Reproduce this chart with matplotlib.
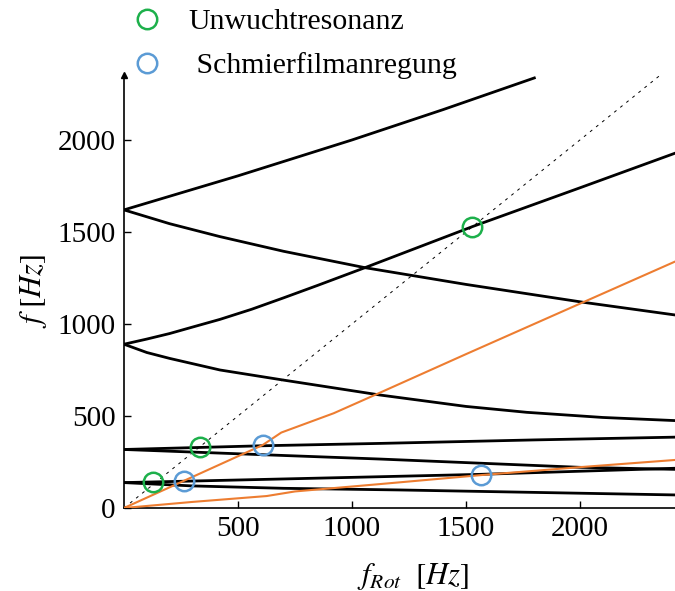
import numpy as np
import matplotlib
matplotlib.use('Agg')
import matplotlib.pyplot as plt
from matplotlib.lines import Line2D

plt.rcParams['font.family'] = ['Liberation Serif', 'DejaVu Serif']
plt.rcParams['mathtext.fontset'] = 'stix'

# Eigenfrequenzen (schwarz)
mode_x = [
    [0, 500, 1000, 1400, 1800],
    [0, 200, 420, 700, 1057, 1500, 2014, 2417],
    [0, 100, 200, 300, 421, 560, 700, 850, 1057, 1528, 2000, 2417],
    [0, 100, 200, 421, 700, 1123, 1500, 1766, 2100, 2417],
    [0, 600, 1123, 1800, 2417],
    [0, 600, 1123, 2000, 2417],
    [0, 600, 1123, 1566, 2417],
    [0, 300, 700, 1211, 2417],
]
mode_y = [
    [1620, 1805, 2000, 2165, 2337],
    [1620, 1545, 1475, 1395, 1306, 1215, 1118, 1049],
    [890, 918, 948, 983, 1025, 1080, 1142, 1210, 1306, 1529, 1740, 1928],
    [890, 845, 813, 750, 695, 614, 552, 520, 492, 475],
    [318, 338, 351, 370, 385],
    [318, 290, 266, 221, 210],
    [138, 155, 170, 183, 216],
    [138, 120, 107, 98, 71],
]

# Schmierfilm-Anregung (orange)
oil_x = [
    [0, 265, 608, 690, 920, 1100, 1500, 2014, 2417],
    [0, 300, 626, 750, 1123, 1568, 2000, 2417],
]
oil_y = [
    [0, 149, 342, 410, 515, 614, 836, 1118, 1339],
    [0, 33, 65, 90, 130, 179, 222, 261],
]

diag = [0, 2353]

unw_x = [127, 333, 1528]
unw_y = [141, 331, 1529]
smf_x = [265, 608, 1568]
smf_y = [145, 342, 179]

green = '#1db04b'
blue = '#5b9bd5'
orange = '#ed7d31'

fig = plt.figure(figsize=(6.75, 5.91), dpi=100)
ax = fig.add_axes([124 / 675, 83 / 591, 551 / 675, 433 / 591])

for xs, ys in zip(mode_x, mode_y):
    ax.plot(xs, ys, color='black', lw=2.0, zorder=3)
for xs, ys in zip(oil_x, oil_y):
    ax.plot(xs, ys, color=orange, lw=1.5, zorder=3)
ax.plot(diag, diag, color='black', lw=0.7, ls=(0, (3, 5)), zorder=2)

ax.plot(unw_x, unw_y, 'o', ms=14, mfc='none', mec=green, mew=1.8, zorder=4)
ax.plot(smf_x, smf_y, 'o', ms=14, mfc='none', mec=blue, mew=1.8, zorder=4)

ax.set_xlim(0, 2417)
ax.set_ylim(0, 2353)
ax.set_xticks([500, 1000, 1500, 2000])
ax.set_yticks([0, 500, 1000, 1500, 2000])
ax.tick_params(direction='in', length=5, width=1, labelsize=21, pad=6)
for s in ['top', 'right']:
    ax.spines[s].set_visible(False)
for s in ['left', 'bottom']:
    ax.spines[s].set_linewidth(1.2)
ax.plot(0, 1, '^', color='black', ms=4, transform=ax.transAxes, clip_on=False)

ax.set_xlabel(r'$f_{Rot}\ \ [Hz]$', fontsize=22)
ax.xaxis.set_label_coords(0.5245, -0.122)
ax.set_ylabel(r'$f\ [Hz]$', fontsize=22, labelpad=6)

handles = [
    Line2D([], [], ls='none', marker='o', ms=14, mfc='none', mec=green, mew=1.8),
    Line2D([], [], ls='none', marker='o', ms=14, mfc='none', mec=blue, mew=1.8),
]
fig.legend(handles, ['Unwuchtresonanz', ' Schmierfilmanregung'],
           loc='center left', bbox_to_anchor=(99 / 675, (591 - 44) / 591), frameon=False,
           fontsize=21.5, handletextpad=0.4, labelspacing=0.57, borderpad=0.1)

fig.savefig('out.png', dpi=100)
